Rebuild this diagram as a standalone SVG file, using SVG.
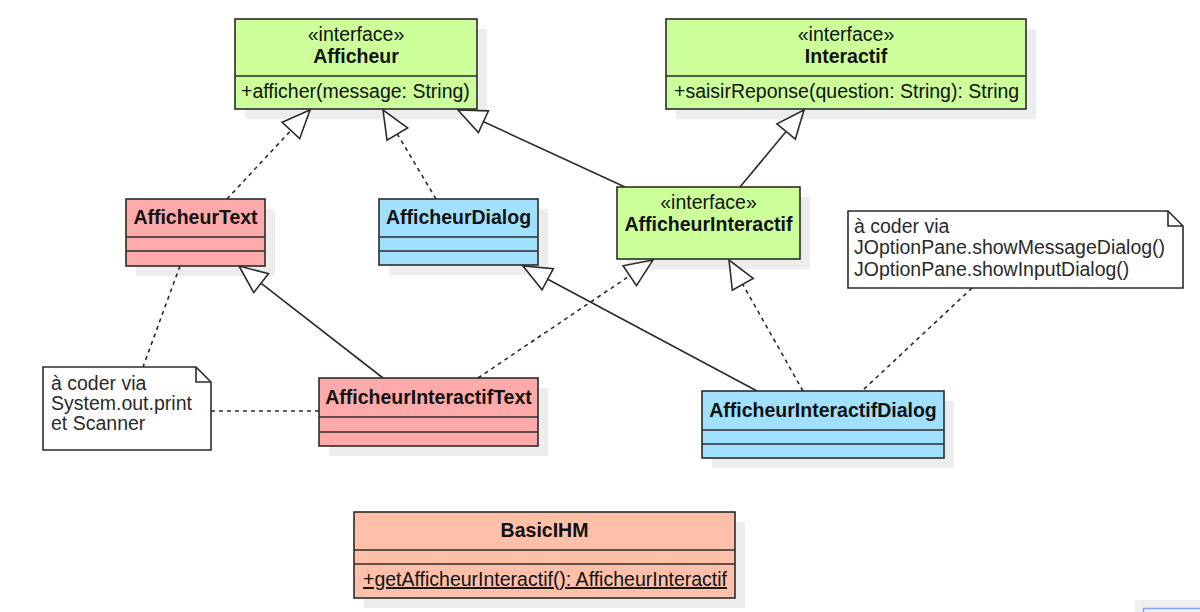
<svg xmlns="http://www.w3.org/2000/svg" width="1200" height="612" viewBox="0 0 1200 612">
<style>
  .t { font-family: "Liberation Sans", Arial, sans-serif; font-size: 19.5px; fill: #111; }
  .b { font-weight: bold; }
  .c { text-anchor: middle; }
  .n { font-family: "Liberation Sans", Arial, sans-serif; font-size: 19.5px; fill: #2a2a2a; }
  .box { stroke: #2b2b2b; stroke-width: 1.6; }
  .sep { stroke: #2b2b2b; stroke-width: 1.6; fill: none; }
  .sh { fill: #ededed; }
  .green { fill: #ccff99; }
  .pink { fill: #ffaaaa; }
  .blue { fill: #a2e0ff; }
  .salmon { fill: #ffbfa9; }
  .note { fill: #ffffff; stroke: #2b2b2b; stroke-width: 1.6; }
  .solid { fill: none; stroke: #2b2b2b; stroke-width: 1.6; }
  .dash { fill: none; stroke: #2b2b2b; stroke-width: 1.6; stroke-dasharray: 4 4; }
</style>
<defs>
  <marker id="tri" markerUnits="userSpaceOnUse" viewBox="-2 -14 32 28" markerWidth="32" markerHeight="28" refX="28" refY="0" orient="auto">
    <path d="M28,0 L0,-12 L0,12 Z" fill="#ffffff" stroke="#2b2b2b" stroke-width="1.6" stroke-linejoin="miter"/>
  </marker>
</defs>
<rect width="1200" height="612" fill="#ffffff"/>

<g id="shadows">
  <rect class="sh" x="245" y="29" width="242" height="90"/>
  <rect class="sh" x="676" y="29" width="360" height="90"/>
  <rect class="sh" x="136" y="209" width="139" height="67"/>
  <rect class="sh" x="389" y="209" width="159" height="66"/>
  <rect class="sh" x="627" y="197" width="183" height="72"/>
  <rect class="sh" x="329" y="388" width="219" height="68"/>
  <rect class="sh" x="712" y="401" width="242" height="67"/>
  <rect class="sh" x="364" y="522" width="381" height="86"/>
</g>

<g id="connectors">
  <path class="dash" d="M227,199 L310,110" marker-end="url(#tri)"/>
  <path class="dash" d="M436,199 L383,110" marker-end="url(#tri)"/>
  <path class="solid" d="M625,187 L458,110" marker-end="url(#tri)"/>
  <path class="solid" d="M740,187 L804,110" marker-end="url(#tri)"/>
  <path class="solid" d="M383,378 L239,266" marker-end="url(#tri)"/>
  <path class="solid" d="M757,391 L523,266" marker-end="url(#tri)"/>
  <path class="dash" d="M478,378 L653,260" marker-end="url(#tri)"/>
  <path class="dash" d="M803,391 L729,260" marker-end="url(#tri)"/>
  <path class="dash" d="M972,288 L862,391"/>
  <path class="dash" d="M180,266 L143,367"/>
  <path class="dash" d="M211,411 L319,411"/>
</g>

<g id="Afficheur">
  <rect class="box green" x="235" y="19" width="242" height="90"/>
  <line class="sep" x1="235" y1="76" x2="477" y2="76"/>
  <text class="t c" x="356" y="41">«interface»</text>
  <text class="t b c" x="356" y="63">Afficheur</text>
  <text class="t" x="241" y="98">+afficher(message: String)</text>
</g>

<g id="Interactif">
  <rect class="box green" x="666" y="19" width="360" height="90"/>
  <line class="sep" x1="666" y1="76" x2="1026" y2="76"/>
  <text class="t c" x="846" y="41">«interface»</text>
  <text class="t b c" x="846" y="63">Interactif</text>
  <text class="t" x="674" y="98">+saisirReponse(question: String): String</text>
</g>

<g id="AfficheurText">
  <rect class="box pink" x="126" y="199" width="139" height="67"/>
  <line class="sep" x1="126" y1="237" x2="265" y2="237"/>
  <line class="sep" x1="126" y1="251" x2="265" y2="251"/>
  <text class="t b c" x="195.5" y="224">AfficheurText</text>
</g>

<g id="AfficheurDialog">
  <rect class="box blue" x="379" y="199" width="159" height="66"/>
  <line class="sep" x1="379" y1="237" x2="538" y2="237"/>
  <line class="sep" x1="379" y1="251" x2="538" y2="251"/>
  <text class="t b c" x="458.5" y="224">AfficheurDialog</text>
</g>

<g id="AfficheurInteractif">
  <rect class="box green" x="617" y="187" width="183" height="72"/>
  <text class="t c" x="708.5" y="209">«interface»</text>
  <text class="t b c" x="708.5" y="231">AfficheurInteractif</text>
</g>

<g id="NoteDialog">
  <path class="note" d="M848,211 L1168,211 L1183,226 L1183,288 L848,288 Z"/>
  <path class="sep" d="M1168,211 L1168,226 L1183,226"/>
  <text class="n" x="854" y="233">à coder via</text>
  <text class="n" x="854" y="253.5">JOptionPane.showMessageDialog()</text>
  <text class="n" x="854" y="275.5">JOptionPane.showInputDialog()</text>
</g>

<g id="NoteText">
  <path class="note" d="M43,367 L196,367 L211,382 L211,450 L43,450 Z"/>
  <path class="sep" d="M196,367 L196,382 L211,382"/>
  <text class="n" x="51" y="390">à coder via</text>
  <text class="n" x="51" y="410">System.out.print</text>
  <text class="n" x="51" y="430">et Scanner</text>
</g>

<g id="AfficheurInteractifText">
  <rect class="box pink" x="319" y="378" width="219" height="68"/>
  <line class="sep" x1="319" y1="417" x2="538" y2="417"/>
  <line class="sep" x1="319" y1="432" x2="538" y2="432"/>
  <text class="t b c" x="428.5" y="404">AfficheurInteractifText</text>
</g>

<g id="AfficheurInteractifDialog">
  <rect class="box blue" x="702" y="391" width="242" height="67"/>
  <line class="sep" x1="702" y1="430" x2="944" y2="430"/>
  <line class="sep" x1="702" y1="444" x2="944" y2="444"/>
  <text class="t b c" x="823" y="417">AfficheurInteractifDialog</text>
</g>

<g id="BasicIHM">
  <rect class="box salmon" x="354" y="512" width="381" height="86"/>
  <line class="sep" x1="354" y1="550" x2="735" y2="550"/>
  <line class="sep" x1="354" y1="564" x2="735" y2="564"/>
  <text class="t b c" x="544.5" y="537">BasicIHM</text>
  <text class="t" x="363" y="586" text-decoration="underline">+getAfficheurInteractif(): AfficheurInteractif</text>
</g>

<g id="corner">
  <rect x="1135" y="600" width="65" height="12" fill="#f0f0f0"/>
  <path d="M1143.5,612 L1143.5,608.5 L1200,608.5" fill="none" stroke="#7aa7ef" stroke-width="1.5"/>
</g>
</svg>
